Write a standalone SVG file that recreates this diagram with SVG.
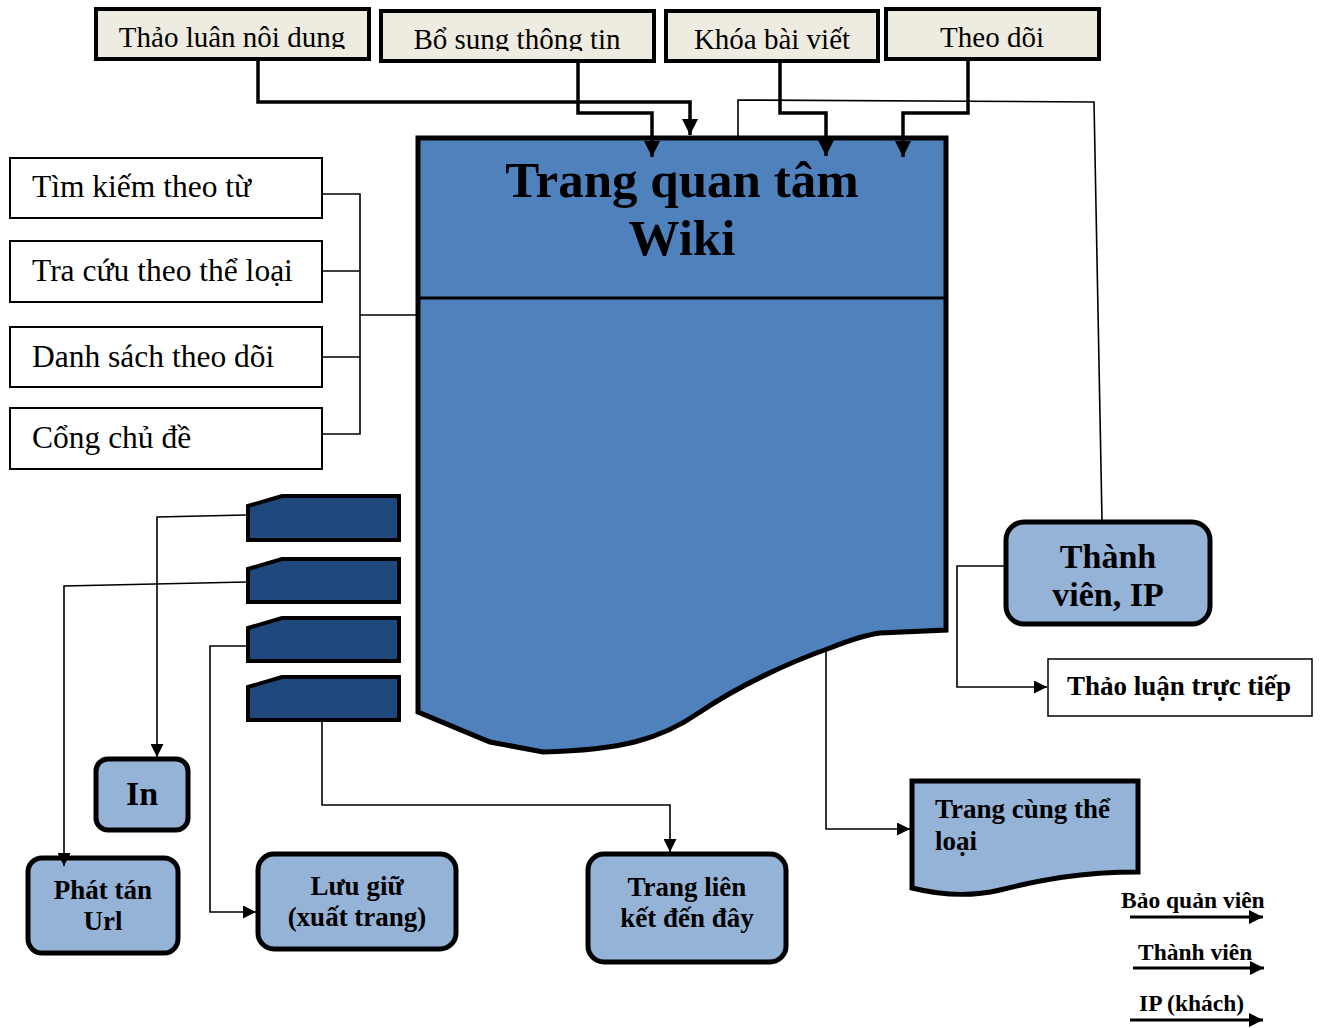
<svg xmlns="http://www.w3.org/2000/svg" width="1323" height="1028" viewBox="0 0 1323 1028">
<style>
.top{fill:#eeece1;stroke:#000;stroke-width:4}
.topt{font-family:"Liberation Serif","Times New Roman",serif;font-size:29px;text-anchor:middle;fill:#000}
.lbox{fill:#fff;stroke:#000;stroke-width:2}
.lt{font-family:"Liberation Serif","Times New Roman",serif;font-size:31.5px;fill:#000}
.node{fill:#95b3d7;stroke:#000;stroke-width:5}
.nt{font-family:"Liberation Serif","Times New Roman",serif;font-size:27px;font-weight:bold;text-anchor:middle;fill:#000}
.ntl{font-family:"Liberation Serif","Times New Roman",serif;font-size:27px;font-weight:bold;fill:#000}
.big{font-size:34px}
.tab{fill:#1f497d;stroke:#000;stroke-width:4}
.thick{fill:none;stroke:#000;stroke-width:3.5}
.thin{fill:none;stroke:#000;stroke-width:1.6}
.leg{font-family:"Liberation Serif","Times New Roman",serif;font-size:23.5px;font-weight:bold;fill:#000}
.title{font-family:"Liberation Serif","Times New Roman",serif;font-size:51px;font-weight:bold;text-anchor:middle;fill:#000}
</style>
<defs>
<marker id="ah" viewBox="0 0 10 10" refX="10" refY="5" markerWidth="16" markerHeight="16" markerUnits="userSpaceOnUse" orient="auto">
<path d="M0,0 L10,5 L0,10 Z" fill="#000"/>
</marker>
<marker id="ahs" viewBox="0 0 10 10" refX="10" refY="5" markerWidth="13" markerHeight="13" markerUnits="userSpaceOnUse" orient="auto">
<path d="M0,0 L10,5 L0,10 Z" fill="#000"/>
</marker>
<marker id="ahl" viewBox="0 0 10 10" refX="10" refY="5" markerWidth="18" markerHeight="14" markerUnits="userSpaceOnUse" orient="auto">
<path d="M0,0 L10,5 L0,10 Z" fill="#000"/>
</marker>
<clipPath id="c1"><rect x="96" y="9" width="273" height="40"/></clipPath>
<clipPath id="c2"><rect x="381" y="11" width="273" height="40"/></clipPath>
<clipPath id="c3"><rect x="666" y="11" width="212" height="40"/></clipPath>
<clipPath id="c4"><rect x="886" y="9" width="213" height="40"/></clipPath>
</defs>

<g id="n-thao-luan-noi-dung">
<rect class="top" x="96" y="9" width="273" height="50"/>
<text class="topt" x="232" y="47" clip-path="url(#c1)">Thảo luận nội dung</text>
</g>
<g id="n-bo-sung">
<rect class="top" x="381" y="11" width="273" height="50"/>
<text class="topt" x="517" y="49" clip-path="url(#c2)">Bổ sung thông tin</text>
</g>
<g id="n-khoa">
<rect class="top" x="666" y="11" width="212" height="50"/>
<text class="topt" x="772" y="49" clip-path="url(#c3)">Khóa bài viết</text>
</g>
<g id="n-theo-doi">
<rect class="top" x="886" y="9" width="213" height="50"/>
<text class="topt" x="992" y="47" clip-path="url(#c4)">Theo dõi</text>
</g>

<g id="n-main">
<path d="M418,138 H946 V630 L880,633 C865,635 850,640 830,648 C790,662 740,685 700,712 C660,740 620,750 543,752 L490,742 L418,712 Z" fill="#4f81bd" stroke="#000" stroke-width="5"/>
<line x1="418" y1="298" x2="946" y2="298" stroke="#000" stroke-width="3"/>
<text class="title" x="682" y="197">Trang quan tâm</text>
<text class="title" x="682" y="255">Wiki</text>
</g>

<g id="n-tim-kiem"><rect class="lbox" x="10" y="158" width="312" height="60"/><text class="lt" x="32" y="197">Tìm kiếm theo từ</text></g>
<g id="n-tra-cuu"><rect class="lbox" x="10" y="241" width="312" height="61"/><text class="lt" x="32" y="281">Tra cứu theo thể loại</text></g>
<g id="n-danh-sach"><rect class="lbox" x="10" y="327" width="312" height="60"/><text class="lt" x="32" y="367">Danh sách theo dõi</text></g>
<g id="n-cong"><rect class="lbox" x="10" y="408" width="312" height="61"/><text class="lt" x="32" y="448">Cổng chủ đề</text></g>

<g id="n-tab1"><path class="tab" d="M248,506 L282,496 H399 V540 H248 Z"/></g>
<g id="n-tab2"><path class="tab" d="M248,569 L282,559 H399 V602 H248 Z"/></g>
<g id="n-tab3"><path class="tab" d="M248,628 L282,618 H399 V661 H248 Z"/></g>
<g id="n-tab4"><path class="tab" d="M248,687 L282,677 H399 V720 H248 Z"/></g>

<g id="n-in"><rect class="node" x="96" y="759" width="92" height="71" rx="12"/><text class="nt big" x="142" y="805">In</text></g>
<g id="n-phat-tan"><rect class="node" x="28" y="858" width="150" height="95" rx="14"/><text class="nt" x="103" y="899">Phát tán</text><text class="nt" x="103" y="930">Url</text></g>
<g id="n-luu-giu"><rect class="node" x="258" y="854" width="198" height="95" rx="16"/><text class="nt" x="357" y="895">Lưu giữ</text><text class="nt" x="357" y="926">(xuất trang)</text></g>
<g id="n-trang-lien"><rect class="node" x="588" y="854" width="198" height="108" rx="16"/><text class="nt" x="687" y="896">Trang liên</text><text class="nt" x="687" y="927">kết đến đây</text></g>
<g id="n-thanh-vien"><rect class="node" x="1006" y="522" width="204" height="102" rx="18"/><text class="nt big" x="1108" y="568">Thành</text><text class="nt big" x="1108" y="606">viên, IP</text></g>
<g id="n-thao-luan-truc-tiep"><rect x="1048" y="659" width="264" height="57" fill="#fff" stroke="#000" stroke-width="1.5"/><text class="nt" x="1179" y="695">Thảo luận trực tiếp</text></g>
<g id="n-trang-cung">
<path class="node" d="M912,781 H1138 V872 C1080,872 1040,880 1000,890 C970,897 940,895 912,888 Z"/>
<text class="ntl" x="935" y="818">Trang cùng thể</text>
<text class="ntl" x="935" y="850">loại</text>
</g>

<g id="connectors">
<polyline class="thick" points="258,59 258,102 690,102 690,135" marker-end="url(#ah)"/>
<polyline class="thick" points="578,61 578,113 652,113 652,157" marker-end="url(#ah)"/>
<polyline class="thick" points="780,61 780,113 826,113 826,156" marker-end="url(#ah)"/>
<polyline class="thick" points="968,59 968,113 903,113 903,157" marker-end="url(#ah)"/>
<polyline class="thin" points="738,136 738,100 1094,102 1102,520"/>
<polyline class="thin" points="323,194 360,194 360,434 323,434"/>
<line class="thin" x1="323" y1="271" x2="360" y2="271"/>
<line class="thin" x1="323" y1="357" x2="360" y2="357"/>
<line class="thin" x1="360" y1="315" x2="416" y2="315"/>
<polyline class="thin" points="246,515 157,517 157,757" marker-end="url(#ahs)"/>
<polyline class="thin" points="246,582 64,586 64,866" marker-end="url(#ahs)"/>
<polyline class="thin" points="246,646 210,646 210,912 256,912" marker-end="url(#ahs)"/>
<polyline class="thin" points="322,722 322,805 670,805 670,852" marker-end="url(#ahs)"/>
<polyline class="thin" points="1004,566 957,566 957,687 1047,687" marker-end="url(#ahs)"/>
<polyline class="thin" points="826,650 826,829 910,829" marker-end="url(#ahs)"/>
</g>

<g id="legend">
<text class="leg" x="1121" y="908">Bảo quản viên</text>
<line x1="1130" y1="917" x2="1263" y2="917" stroke="#000" stroke-width="3" marker-end="url(#ahl)"/>
<text class="leg" x="1138" y="960">Thành viên</text>
<line x1="1133" y1="968" x2="1264" y2="968" stroke="#000" stroke-width="3" marker-end="url(#ahl)"/>
<text class="leg" x="1139" y="1011">IP (khách)</text>
<line x1="1130" y1="1020" x2="1263" y2="1020" stroke="#000" stroke-width="3" marker-end="url(#ahl)"/>
</g>
</svg>
